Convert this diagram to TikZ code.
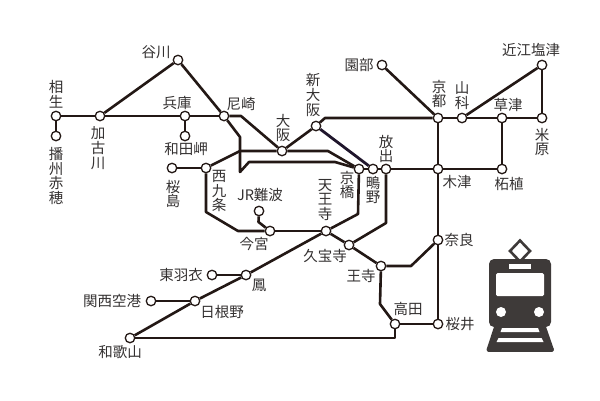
\documentclass[tikz,border=0pt]{standalone}
\usepackage{fontspec}
\setmainfont{Noto Sans CJK JP}
\begin{document}
\begin{tikzpicture}[x=1pt,y=-1pt,
  st/.style={circle,draw=ln,fill=white,line width=1.3pt,minimum size=9.5pt,inner sep=0pt},
  lb/.style={text=tx,font=\fontsize{14.5}{14.8}\selectfont,inner sep=0pt,align=center},
  rail/.style={draw=ln,line width=2.6pt,line join=round},
  railb/.style={draw=ln!90!blue,line width=2.8pt}]
\definecolor{ln}{HTML}{231815}
\definecolor{tx}{HTML}{333030}
\definecolor{ic}{HTML}{3E3A39}
\useasboundingbox (0,0) rectangle (600,400);
% stations
\foreach \n/\x/\y in {aioi/56/116,ako/56/136,kako/100/116,tani/178/60,hyogo/185/116,wada/185/136,ama/224/116,osaka/282/151,shin/316/126,sono/382/65,kyoto/438/118,yama/462/118,kusa/502/118,mai/542/118,omi/542/65,hana/386/169,shigi/373/169,kyob/359/169,kizu/438/169,tsuge/502/169,sakur/172/168,nishi/206/168,namba/259/211,ima/270/231,ten/326/231,kyuh/349/245,oji/381/266,nara/438/240,taka/395/324,saku/438/324,hago/212/275,otori/246/275,kanku/151/301,hine/195/301,waka/130/338}
  \node[st] (\n) at (\x,\y) {};
% way points
\coordinate (a1) at (241,116);
\coordinate (b1) at (240,137);
\coordinate (b2) at (240,172);
\coordinate (b3) at (249,162);
\coordinate (b4) at (335,162);
\coordinate (c1) at (240,151);
\coordinate (c2) at (328,151);
\coordinate (d1) at (325,118);
\coordinate (e1) at (206,212);
\coordinate (e2) at (238,231);
\coordinate (f1) at (358,214);
\coordinate (g1) at (386,223);
\coordinate (h1) at (411,266);
\coordinate (i1) at (380,304);
\coordinate (j1) at (395,338);
\coordinate (k1) at (258.5,222);
% connectors
\draw[rail] (aioi)--(kako);
\draw[rail] (kako)--(hyogo);
\draw[rail] (hyogo)--(ama);
\draw[rail] (aioi)--(ako);
\draw[rail] (hyogo)--(wada);
\draw[rail] (kako)--(tani);
\draw[rail] (tani)--(ama);
\draw[rail] (ama)--(a1)--(osaka);
\draw[rail] (ama)--(b1)--(b2)--(b3)--(b4)--(kyob);
\draw[rail] (nishi)--(c1)--(osaka);
\draw[rail] (osaka)--(c2)--(kyob);
\draw[rail] (osaka)--(shin);
\draw[rail] (shin)--(d1)--(kyoto);
\draw[railb] (shin)--(shigi);
\draw[rail] (sakur)--(nishi);
\draw[rail] (nishi)--(e1)--(e2)--(ima);
\draw[rail] (ima)--(ten);
\draw[rail] (namba)--(k1)--(ima);
\draw[rail] (ten)--(f1)--(kyob);
\draw[rail] (kyob)--(shigi);
\draw[rail] (shigi)--(hana);
\draw[rail] (hana)--(kizu);
\draw[rail] (kizu)--(tsuge);
\draw[rail] (hana)--(g1)--(kyuh);
\draw[rail] (ten)--(kyuh);
\draw[rail] (kyuh)--(oji);
\draw[rail] (oji)--(h1)--(nara);
\draw[rail] (oji)--(i1)--(taka);
\draw[rail] (taka)--(saku);
\draw[rail] (taka)--(j1)--(waka);
\draw[rail] (kyoto)--(kizu);
\draw[rail] (kizu)--(nara);
\draw[rail] (nara)--(saku);
\draw[rail] (sono)--(kyoto);
\draw[rail] (kyoto)--(yama);
\draw[rail] (yama)--(kusa);
\draw[rail] (kusa)--(mai);
\draw[rail] (mai)--(omi);
\draw[rail] (yama)--(omi);
\draw[rail] (kusa)--(tsuge);
\draw[rail] (waka)--(hine);
\draw[rail] (hine)--(otori);
\draw[rail] (otori)--(ten);
\draw[rail] (hago)--(otori);
\draw[rail] (kanku)--(hine);
% labels
\node[lb] (l1) at (156,52) {谷川};
\node[lb] (l2) at (56,94) {相\\生};
\node[lb] (l3) at (56,176) {播\\州\\赤\\穂};
\node[lb] (l4) at (98,148) {加\\古\\川};
\node[lb] (l5) at (177,103) {兵庫};
\node[lb] (l6) at (241,104) {尼崎};
\node[lb] (l7) at (283,128) {大\\阪};
\node[lb] (l8) at (186,149) {和田岬};
\node[lb] (l9) at (173,194) {桜\\島};
\node[lb] (l10) at (219,191) {西\\九\\条};
\node[lb] (l11) at (260,195) {JR難波};
\node[lb] (l12) at (254,244) {今宮};
\node[lb] (l13) at (325,256) {久宝寺};
\node[lb] (l14) at (325,200) {天\\王\\寺};
\node[lb] (l15) at (347,185) {京\\橋};
\node[lb] (l16) at (373,190) {鴫\\野};
\node[lb] (l17) at (386,149) {放\\出};
\node[lb] (l18) at (313,95) {新\\大\\阪};
\node[lb] (l19) at (359,65) {園部};
\node[lb] (l20) at (439,94) {京\\都};
\node[lb] (l21) at (462,96) {山\\科};
\node[lb] (l22) at (508,105) {草津};
\node[lb] (l23) at (531,50) {近江塩津};
\node[lb] (l24) at (542,142) {米\\原};
\node[lb] (l25) at (457,182) {木津};
\node[lb] (l26) at (509,184) {柘植};
\node[lb] (l27) at (459,240) {奈良};
\node[lb] (l28) at (460,324) {桜井};
\node[lb] (l29) at (408,309) {高田};
\node[lb] (l30) at (361,276) {王寺};
\node[lb] (l31) at (181,275) {東羽衣};
\node[lb] (l32) at (259,285) {鳳};
\node[lb] (l33) at (112,301) {関西空港};
\node[lb] (l34) at (222,312) {日根野};
\node[lb] (l35) at (120,352) {和歌山};
% train icon
\draw[ic,line width=2.6pt,fill=white] (520,240.5)--(530,251)--(520,261.5)--(510,251)--cycle;
\draw[ic,line width=2.6pt] (517,259)--(515,262);
\draw[ic,line width=2.6pt] (523,259)--(525,262);
\fill[ic,rounded corners=5pt] (489,259) rectangle (551,327);
\fill[white] (509,263.5) rectangle (531,268.5);
\fill[white,rounded corners=1.5pt] (496,273) rectangle (544,296);
\fill[white] (501,312) circle (5pt);
\fill[white] (539,312) circle (5pt);
\fill[ic] (497,322)--(543,322)--(552,349)--(488,349)--cycle;
\draw[ic,line width=4.6pt,line cap=round] (497,325)--(489,349.5);
\draw[ic,line width=4.6pt,line cap=round] (543,325)--(551.5,349.5);
\draw[ic,line width=4.6pt,line cap=round] (489,349.5)--(551.5,349.5);
\fill[white] (502,328)--(538,328)--(539.5,332)--(500.5,332)--cycle;
\fill[white] (498.5,338)--(541.5,338)--(543.5,342)--(496.5,342)--cycle;
\end{tikzpicture}
\end{document}
